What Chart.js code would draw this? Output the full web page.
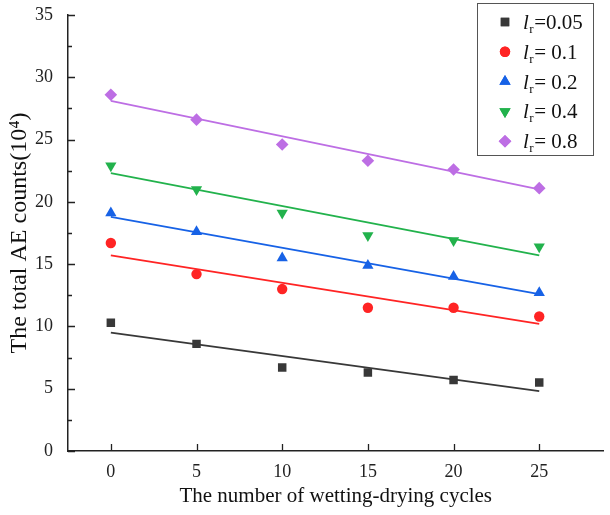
<!DOCTYPE html>
<html>
<head>
<meta charset="utf-8">
<script src="https://cdn.jsdelivr.net/npm/chart.js@4.4.1/dist/chart.umd.min.js"></script>
<style>
html,body{margin:0;padding:0;background:#fff;}
#wrap{width:610px;height:515px;position:relative;}
</style>
</head>
<body>
<div id="wrap"><canvas id="c"></canvas></div>
<script>
// ---- data ----
const cycles = [0, 5, 10, 15, 20, 25];
const xTicks = [0, 5, 10, 15, 20, 25];
const yTicks = [0, 5, 10, 15, 20, 25, 30, 35];
const lrLabels = ['=0.05', '= 0.1', '= 0.2', '= 0.4', '= 0.8'];

const lr005 = [10.3, 8.6, 6.7, 6.3, 5.7, 5.5];
const lr01  = [16.7, 14.2, 13.0, 11.5, 11.5, 10.8];
const lr02  = [19.1, 17.6, 15.5, 14.9, 14.0, 12.7];
const lr04  = [22.9, 21.0, 19.1, 17.3, 16.9, 16.4];
const lr08  = [28.6, 26.6, 24.6, 23.3, 22.6, 21.1];

// fitted lines: values at x = 0 and x = 25
const fitX   = [0, 25];
const fit005 = [9.5, 4.8];
const fit01  = [15.7, 10.2];
const fit02  = [18.8, 12.6];
const fit04  = [22.3, 15.7];
const fit08  = [28.1, 21.0];

const colors = ['#383838', '#ff2424', '#1762e6', '#22b24c', '#bd6ee4'];
const styles = ['rect', 'circle', 'triangle', 'triangle', 'rectRot'];
const rotations = [0, 0, 0, 180, 0];
const radii = [6, 5.2, 6.5, 6.5, 6.3];

const series = [lr005, lr01, lr02, lr04, lr08];
const fits = [fit005, fit01, fit02, fit04, fit08];

const datasets = [];
fits.forEach((f, i) => {
  datasets.push({
    type: 'line',
    label: 'fit' + i,
    data: fitX.map((x, k) => ({x: x, y: f[k]})),
    borderColor: colors[i],
    borderWidth: 1.8,
    pointRadius: 0,
    fill: false,
    order: 2
  });
});
series.forEach((s, i) => {
  datasets.push({
    type: 'scatter',
    label: 'lr' + lrLabels[i],
    data: cycles.map((x, k) => ({x: x, y: s[k]})),
    backgroundColor: colors[i],
    borderColor: colors[i],
    borderWidth: 0,
    pointStyle: styles[i],
    rotation: rotations[i],
    pointRadius: radii[i],
    pointHoverRadius: radii[i],
    order: 1
  });
});

const serif = "'Liberation Serif', 'Times New Roman', serif";

const axisTicksPlugin = {
  id: 'inwardTicks',
  afterDraw(chart) {
    const ctx = chart.ctx;
    const xs = chart.scales.x, ys = chart.scales.y;
    const ax = ys.right, ay = xs.top;
    ctx.save();
    ctx.strokeStyle = '#222';
    ctx.lineWidth = 1.3;
    ctx.beginPath();
    for (let v = 0; v <= 35; v += 2.5) {
      const py = Math.round(ys.getPixelForValue(v)) + 0.5;
      const len = (v % 5 === 0) ? 7 : 4;
      ctx.moveTo(ax, py); ctx.lineTo(ax + len, py);
    }
    xTicks.forEach(v => {
      const px = Math.round(xs.getPixelForValue(v)) + 0.5;
      ctx.moveTo(px, ay); ctx.lineTo(px, ay - 7);
    });
    ctx.stroke();
    ctx.restore();
  }
};

const legendPlugin = {
  id: 'subLegend',
  afterDraw(chart) {
    const ctx = chart.ctx;
    ctx.save();
    const bx = 477.5, by = 3.5, bw = 116, bh = 152;
    ctx.fillStyle = '#fff';
    ctx.fillRect(bx, by, bw, bh);
    ctx.strokeStyle = '#555';
    ctx.lineWidth = 1;
    ctx.strokeRect(bx, by, bw, bh);
    lrLabels.forEach((lab, i) => {
      const cy = 22 + i * 29.8;
      ctx.fillStyle = colors[i];
      ctx.strokeStyle = colors[i];
      Chart.helpers.drawPoint(ctx, {pointStyle: styles[i], rotation: rotations[i], radius: radii[i], borderWidth: 0}, 505, cy);
      ctx.fill();
      ctx.fillStyle = '#111';
      ctx.textBaseline = 'alphabetic';
      ctx.textAlign = 'left';
      let x = 523;
      const base = cy + 7;
      ctx.font = "italic 21px " + serif;
      ctx.fillText('l', x, base);
      x += ctx.measureText('l').width + 0.5;
      ctx.font = "13px " + serif;
      ctx.fillText('r', x, base + 4);
      x += ctx.measureText('r').width + 0.5;
      ctx.font = "21px " + serif;
      ctx.fillText(lab, x, base);
    });
    ctx.restore();
  }
};

new Chart(document.getElementById('c'), {
  data: {datasets: datasets},
  options: {
    responsive: true,
    maintainAspectRatio: false,
    animation: false,
    events: [],
    layout: {padding: {left: 0, right: 4, top: 15, bottom: 0}},
    plugins: {legend: {display: false}, tooltip: {enabled: false}},
    scales: {
      x: {
        type: 'linear',
        min: -2.5,
        max: 28.75,
        afterBuildTicks: (s) => { s.ticks = xTicks.map(v => ({value: v})); },
        afterFit: (s) => { s.height = 64; s.paddingLeft = 0; s.paddingRight = 0; },
        grid: {display: true, drawOnChartArea: false, drawTicks: false},
        border: {display: true, color: '#222', width: 1.5},
        ticks: {font: {family: serif, size: 18}, color: '#222', padding: 10, maxRotation: 0},
        title: {display: true, text: 'The number of wetting-drying cycles', font: {family: serif, size: 21}, color: '#111', padding: {top: 0, bottom: 6}}
      },
      y: {
        type: 'linear',
        min: 0,
        max: 35,
        afterBuildTicks: (s) => { s.ticks = yTicks.map(v => ({value: v})); },
        afterFit: (s) => { s.width = 68; s.paddingTop = 0; s.paddingBottom = 0; },
        grid: {display: true, drawOnChartArea: false, drawTicks: false},
        border: {display: true, color: '#222', width: 1.5},
        ticks: {font: {family: serif, size: 18}, color: '#222', padding: 15},
        title: {display: true, text: 'The total AE counts(10\u2074)', font: {family: serif, size: 24}, color: '#111', padding: {top: 5, bottom: 0}}
      }
    }
  },
  plugins: [axisTicksPlugin, legendPlugin]
});
</script>
</body>
</html>
